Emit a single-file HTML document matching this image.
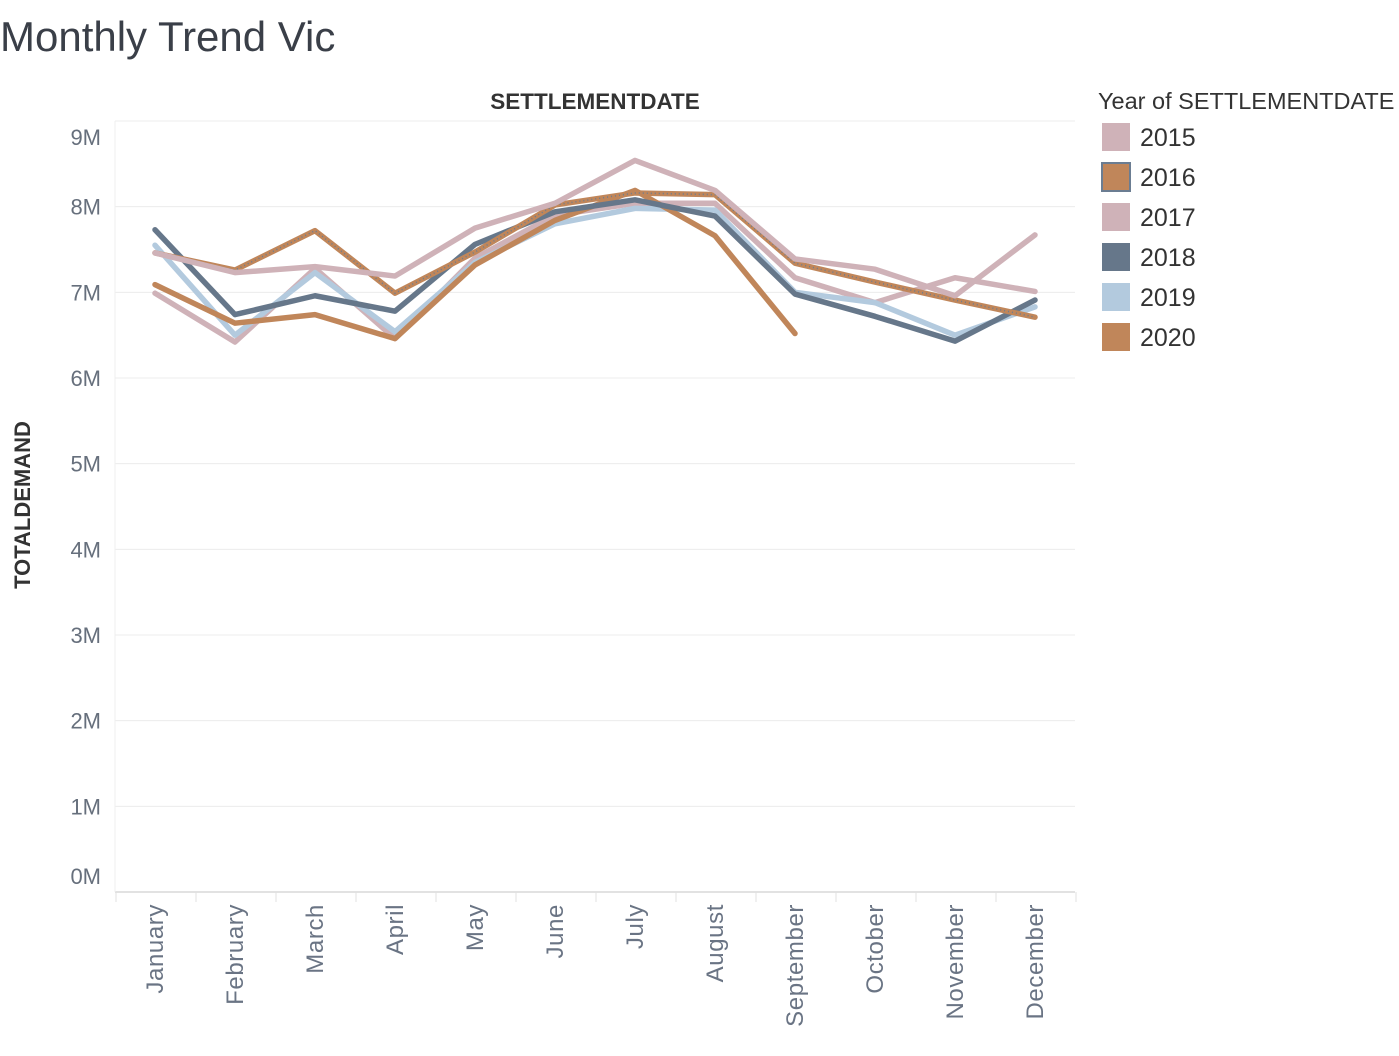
<!DOCTYPE html>
<html><head><meta charset="utf-8">
<style>
body{margin:0;background:#fff;width:1399px;height:1056px;overflow:hidden;font-family:"Liberation Sans",sans-serif;}
svg{display:block}
</style></head>
<body>
<svg id="chart" width="1399" height="1056" xmlns="http://www.w3.org/2000/svg">
<text x="0" y="51" font-size="42" fill="#3a3f48" font-weight="300">Monthly Trend Vic</text>
<text x="595" y="109" font-size="22.5" fill="#333" font-weight="bold" text-anchor="middle">SETTLEMENTDATE</text>
<text transform="translate(30,505) rotate(-90)" font-size="22" fill="#333" font-weight="bold" text-anchor="middle">TOTALDEMAND</text>
<g id="grid"></g><g id="yticks"></g><g id="xticks"></g><g id="series"></g><g id="legend"></g>
</svg>
<script>
const months=["January","February","March","April","May","June","July","August","September","October","November","December"];
const years=["2015","2016","2017","2018","2019","2020"];
const yTickValues=[0,1,2,3,4,5,6,7,8,9];
const s2015=[7.46,7.23,7.30,7.19,7.75,8.04,8.54,8.19,7.39,7.27,6.96,7.67];
const s2016=[7.46,7.26,7.72,6.99,7.47,8.02,8.16,8.14,7.34,7.12,6.91,6.71];
const s2017=[6.99,6.42,7.28,6.46,7.40,7.90,8.04,8.04,7.17,6.88,7.17,7.01];
const s2018=[7.73,6.74,6.96,6.78,7.56,7.94,8.08,7.89,6.98,6.72,6.43,6.91];
const s2019=[7.55,6.50,7.23,6.54,7.35,7.80,7.98,7.96,7.00,6.88,6.50,6.83];
const s2020=[7.09,6.64,6.74,6.46,7.32,7.84,8.19,7.66,6.52];
const NS="http://www.w3.org/2000/svg";
const X0=115,X1=1075,Y0=892,YTOP=121;
const xScale=i=>X0+(X1-X0)/12*(i+0.5);
const yScale=v=>Y0-(Y0-YTOP)*v/9;
function mk(tag,attrs,parent){const e=document.createElementNS(NS,tag);for(const k in attrs)e.setAttribute(k,attrs[k]);parent.appendChild(e);return e;}
const grid=document.getElementById('grid'),yt=document.getElementById('yticks'),xt=document.getElementById('xticks');
yTickValues.forEach(v=>{
  const y=yScale(v);
  const l=mk('line',{x1:X0,x2:X1,y1:y,y2:y,stroke:v===0?'#e2e2e2':'#ececec','stroke-width':v===0?2:1},grid);
  
  
  let ly=y+8; if(v===9) ly=y+24; if(v===0) ly=y-8;
  const t=mk('text',{x:101,y:ly,'text-anchor':'end','font-size':22,fill:'#666f7c'},yt);
  t.textContent=v+'M';
  
  
});
mk('line',{x1:X0,x2:X0,y1:YTOP,y2:Y0,stroke:'#efefef','stroke-width':1},grid);
for(let i=0;i<=12;i++){const x=X0+(X1-X0)/12*i+1;mk('line',{x1:x,x2:x,y1:Y0,y2:Y0+10,stroke:'#e0e0e0','stroke-width':1},grid);}
months.forEach((m,i)=>{
  const t=mk('text',{transform:`translate(${xScale(i)+8},904) rotate(-90)`,'text-anchor':'end','font-size':24,'letter-spacing':'0.6',fill:'#6a7484'},xt);
  t.textContent=m;
  
  
});
const seriesData=[["2017",s2017,"#cfb2b8"],["2019",s2019,"#b3cade"],["2020",s2020,"#c0865a"],["2018",s2018,"#66778a"],["2016",s2016,"#c0865a"],["2015",s2015,"#cfb2b8"]];
const sg=document.getElementById('series');
seriesData.forEach(([yr,vals,col])=>{
  const pts=vals.map((v,i)=>xScale(i)+','+yScale(v)).join(' ');
  const p=mk('polyline',{points:pts,fill:'none',stroke:col,'stroke-width':5.5,'stroke-linejoin':'round','stroke-linecap':'round'},sg);
  
  
  if(yr==="2016"){
    const o=mk('polyline',{points:pts,fill:'none',stroke:'#6b7d92','stroke-width':1.5,'stroke-dasharray':'1 3'},sg);
    
    
  }
});
const lg=document.getElementById('legend');
const lt=mk('text',{x:1098,y:109,'font-size':23.5,fill:'#333'},lg);
lt.textContent='Year of SETTLEMENTDATE';


const legCols={"2015":"#cfb2b8","2016":"#c0865a","2017":"#cfb2b8","2018":"#66778a","2019":"#b3cade","2020":"#c0865a"};
years.forEach((yr,i)=>{
  const y=123+i*40;
  const r=mk('rect',{x:1102,y:y,width:28,height:28,fill:legCols[yr]},lg);
  
  
  if(yr==="2016"){const r2=mk('rect',{x:1102,y:y,width:28,height:28,fill:'none',stroke:'#6b7d92','stroke-width':2},lg);
    
    }
  const t=mk('text',{x:1140,y:y+23,'font-size':25,fill:'#333'},lg);
  t.textContent=yr;
  
  
});
</script>
</body></html>
